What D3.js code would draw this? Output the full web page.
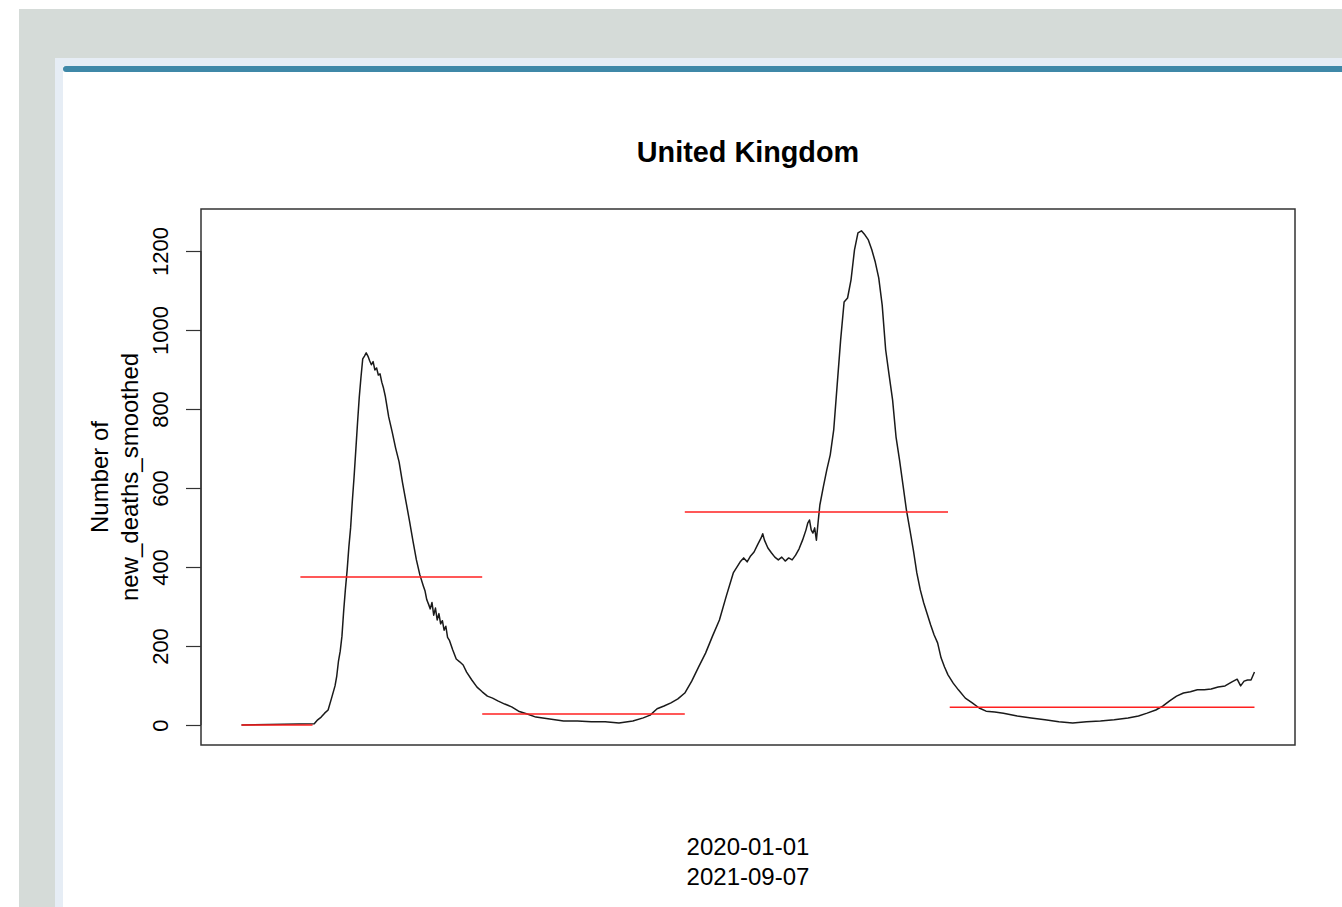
<!DOCTYPE html>
<html>
<head>
<meta charset="utf-8">
<script src="https://cdn.jsdelivr.net/npm/d3@7"></script>
<style>
  html, body { margin: 0; padding: 0; background: #ffffff; }
  svg { display: block; }
</style>
</head>
<body>
<script>
// ---- data ----
const title = "United Kingdom";
const yLabelLines = ["Number of", "new_deaths_smoothed"];
const xLabelLines = ["2020-01-01", "2021-09-07"];
const yTicks = [0, 200, 400, 600, 800, 1000, 1200];

const dates = [
  "2020-01-31","2020-03-13","2020-03-15","2020-03-17","2020-03-19","2020-03-21","2020-03-23","2020-03-25",
  "2020-03-26","2020-03-27","2020-03-28","2020-03-29","2020-03-30","2020-03-31","2020-04-01","2020-04-02",
  "2020-04-03","2020-04-04","2020-04-05","2020-04-06","2020-04-07","2020-04-08","2020-04-09","2020-04-10",
  "2020-04-11","2020-04-12","2020-04-13","2020-04-14","2020-04-15","2020-04-16","2020-04-17","2020-04-18",
  "2020-04-19","2020-04-20","2020-04-21","2020-04-22","2020-04-23","2020-04-25","2020-04-27","2020-04-29",
  "2020-05-01","2020-05-03","2020-05-05","2020-05-07","2020-05-09","2020-05-11","2020-05-13","2020-05-15",
  "2020-05-16","2020-05-17","2020-05-18","2020-05-19","2020-05-20","2020-05-21","2020-05-22","2020-05-23",
  "2020-05-24","2020-05-25","2020-05-26","2020-05-27","2020-05-28","2020-05-29","2020-05-30","2020-06-01",
  "2020-06-03","2020-06-05","2020-06-07","2020-06-09","2020-06-12","2020-06-15","2020-06-18","2020-06-21",
  "2020-06-24","2020-06-27","2020-07-01","2020-07-05","2020-07-09","2020-07-14","2020-07-19","2020-07-27",
  "2020-08-04","2020-08-12","2020-08-20","2020-08-28","2020-09-05","2020-09-13","2020-09-19","2020-09-23",
  "2020-09-27","2020-10-01","2020-10-05","2020-10-09","2020-10-13","2020-10-17","2020-10-21","2020-10-25",
  "2020-10-29","2020-11-02","2020-11-06","2020-11-10","2020-11-14","2020-11-16","2020-11-18","2020-11-20",
  "2020-11-22","2020-11-24","2020-11-26","2020-11-27","2020-11-28","2020-11-30","2020-12-02","2020-12-04",
  "2020-12-06","2020-12-08","2020-12-10","2020-12-12","2020-12-14","2020-12-16","2020-12-18","2020-12-20",
  "2020-12-22","2020-12-23","2020-12-24","2020-12-25","2020-12-26","2020-12-27","2020-12-28","2020-12-29",
  "2020-12-30","2021-01-01","2021-01-03","2021-01-05","2021-01-07","2021-01-09","2021-01-11","2021-01-13",
  "2021-01-15","2021-01-17","2021-01-19","2021-01-21","2021-01-23","2021-01-25","2021-01-27","2021-01-29",
  "2021-01-31","2021-02-02","2021-02-04","2021-02-06","2021-02-08","2021-02-10","2021-02-12","2021-02-14",
  "2021-02-16","2021-02-18","2021-02-20","2021-02-22","2021-02-24","2021-02-26","2021-02-28","2021-03-02",
  "2021-03-04","2021-03-06","2021-03-08","2021-03-10","2021-03-12","2021-03-14","2021-03-17","2021-03-20",
  "2021-03-24","2021-03-28","2021-04-01","2021-04-05","2021-04-10","2021-04-15","2021-04-23","2021-05-01",
  "2021-05-09","2021-05-17","2021-05-25","2021-06-02","2021-06-10","2021-06-18","2021-06-26","2021-07-02",
  "2021-07-07","2021-07-12","2021-07-16","2021-07-20","2021-07-24","2021-07-28","2021-08-01","2021-08-05",
  "2021-08-09","2021-08-13","2021-08-17","2021-08-21","2021-08-25","2021-08-28","2021-08-30","2021-09-01",
  "2021-09-03","2021-09-05","2021-09-07"
];
const deaths = [
  0,3,13,20,30,38,68,99,
  124,162,187,225,289,344,392,451,
  499,567,628,696,765,830,881,927,
  934,942,934,922,912,920,899,904,
  886,889,868,853,833,780,742,701,
  666,613,565,517,466,418,380,352,
  339,317,306,294,310,278,296,266,
  282,256,264,240,250,222,215,190,
  167,160,152,134,114,96,84,73,
  68,61,53,46,35,28,20,15,
  10,10,8,8,5,10,18,25,
  41,48,56,66,81,111,147,182,
  225,266,327,385,413,423,413,428,
  438,456,473,484,468,448,436,425,
  418,425,415,423,418,430,446,468,
  494,511,519,494,486,499,468,514,
  557,603,646,684,747,861,975,1071,
  1081,1127,1203,1246,1251,1241,1228,1203,
  1172,1132,1063,950,886,823,729,671,
  608,544,494,443,385,342,309,281,
  253,228,208,170,147,127,106,89,
  68,56,43,35,33,30,23,18,
  13,8,5,8,10,13,18,23,
  30,38,48,61,73,81,84,89,
  89,91,96,99,109,116,99,111,
  114,114,134
];

// period means drawn as red segments
const segStart = ["2020-01-31","2020-03-05","2020-06-18","2020-10-13","2021-03-15"];
const segEnd   = ["2020-03-12","2020-06-18","2020-10-13","2021-03-14","2021-09-07"];
const segMean  = [0, 375, 28, 539, 45];

// ---- layout ----
const W = 1342, H = 907;
const box = { left: 201, right: 1295, top: 209, bottom: 745 };
const parse = d3.timeParse("%Y-%m-%d");

const svg = d3.select("body").append("svg").attr("width", W).attr("height", H);

// page chrome
svg.append("rect").attr("x", 0).attr("y", 0).attr("width", W).attr("height", H).attr("fill", "#ffffff");
svg.append("rect").attr("x", 19).attr("y", 9).attr("width", W - 19).attr("height", H - 9).attr("fill", "#d5dbd8");
svg.append("rect").attr("x", 55).attr("y", 58).attr("width", W - 55).attr("height", H - 58).attr("fill", "#e6edf5");
svg.append("rect").attr("x", 63).attr("y", 66).attr("width", W - 63).attr("height", H - 66).attr("fill", "#ffffff");
svg.append("rect").attr("x", 63).attr("y", 66).attr("width", W - 63 + 10).attr("height", 6)
   .attr("rx", 3).attr("fill", "#3f88a8");

// scales (R-style 4% expansion on x)
const xDomain = [parse(dates[0]), parse(dates[dates.length - 1])];
const span = box.right - box.left;
const x = d3.scaleTime().domain(xDomain).range([box.left + span * 0.04 / 1.08, box.right - span * 0.04 / 1.08]);
const y = d3.scaleLinear().domain([0, 1200]).range([725, 251]);

const font = "'Liberation Sans', Arial, Helvetica, sans-serif";

// title
svg.append("text").attr("x", (box.left + box.right) / 2).attr("y", 162)
  .attr("text-anchor", "middle").attr("font-family", font).attr("font-weight", "bold")
  .attr("font-size", 28.8).attr("fill", "#000").text(title);

// y axis (R style: rotated labels)
const yAxis = d3.axisLeft(y).tickValues(yTicks).tickSize(15).tickPadding(0).tickFormat(d3.format("d"));
const gy = svg.append("g").attr("transform", `translate(${box.left},0)`).call(yAxis);
gy.select(".domain").attr("stroke", "#333").attr("stroke-width", 1.2).attr("d", `M0,${y(0)}H0V${y(1200)}`);
gy.selectAll(".tick line").attr("stroke", "#333").attr("stroke-width", 1.2);
gy.selectAll(".tick text")
  .attr("font-family", font).attr("font-size", 22).attr("fill", "#000")
  .attr("text-anchor", "middle").attr("dy", null).attr("x", null)
  .attr("transform", d => `translate(-41,0) rotate(-90)`)
  .attr("dominant-baseline", "central");

// y label
yLabelLines.forEach((t, i) => {
  svg.append("text")
    .attr("transform", `translate(${108 + i * 30},${(box.top + box.bottom) / 2}) rotate(-90)`)
    .attr("text-anchor", "middle").attr("font-family", font).attr("font-size", 24)
    .attr("fill", "#000").text(t);
});

// x label (two lines)
xLabelLines.forEach((t, i) => {
  svg.append("text").attr("x", (box.left + box.right) / 2).attr("y", 855 + i * 30)
    .attr("text-anchor", "middle").attr("font-family", font).attr("font-size", 24)
    .attr("fill", "#000").text(t);
});

// main series
const series = dates.map((d, i) => ({ date: parse(d), v: deaths[i] }));
svg.append("path").datum(series)
  .attr("fill", "none").attr("stroke", "#1a1a1a").attr("stroke-width", 1.5).attr("stroke-linejoin", "round")
  .attr("d", d3.line().x(d => x(d.date)).y(d => y(d.v)));

// red period means (drawn on top)
const segs = segStart.map((s, i) => ({ s: parse(s), e: parse(segEnd[i]), v: segMean[i] }));
svg.append("g").selectAll("line").data(segs).join("line")
  .attr("x1", d => x(d.s)).attr("x2", d => x(d.e))
  .attr("y1", d => y(d.v)).attr("y2", d => y(d.v))
  .attr("stroke", "#ff2020").attr("stroke-width", 1.5);

// plot box
svg.append("rect").attr("x", box.left).attr("y", box.top)
  .attr("width", box.right - box.left).attr("height", box.bottom - box.top)
  .attr("fill", "none").attr("stroke", "#333").attr("stroke-width", 1.5);
</script>
</body>
</html>
